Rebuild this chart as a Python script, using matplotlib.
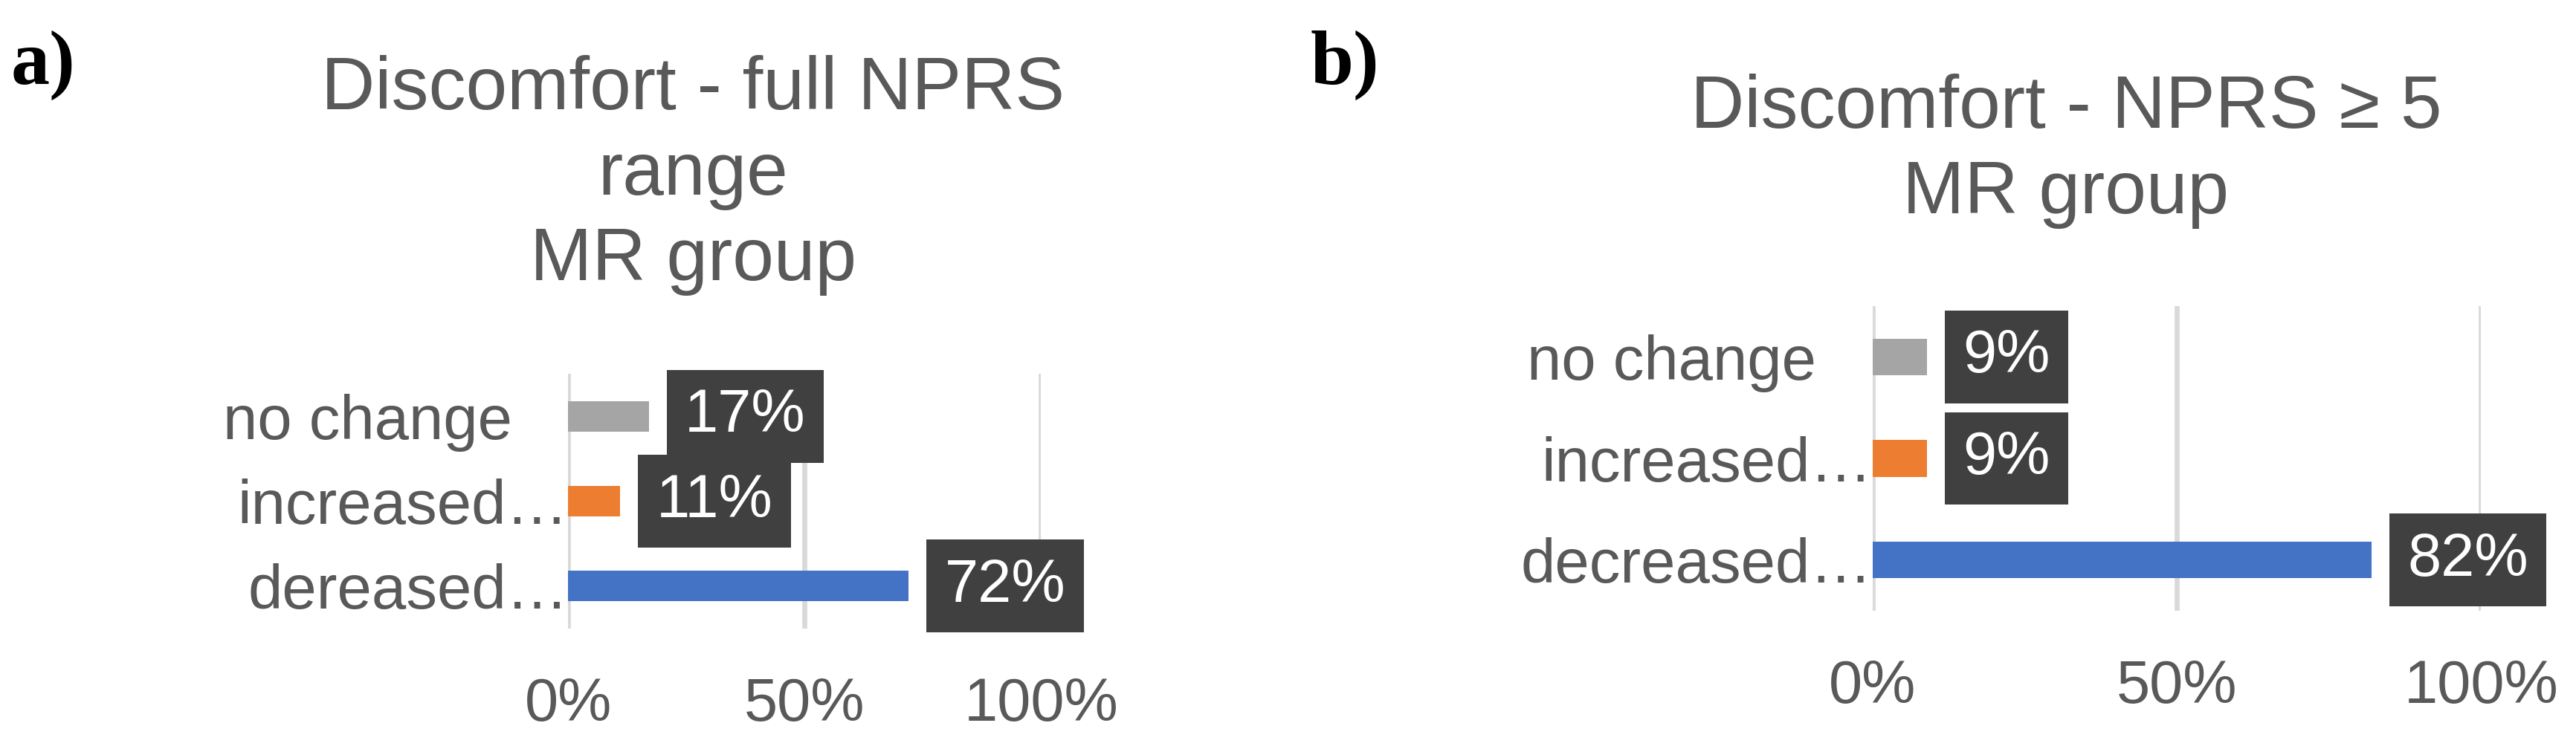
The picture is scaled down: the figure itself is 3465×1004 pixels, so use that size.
import matplotlib.pyplot as plt

# data (top to bottom as shown)
cats_a = ["no change", "increased…", "dereased…"]
vals_a = [17, 11, 72]
cats_b = ["no change", "increased…", "decreased…"]
vals_b = [9, 9, 82]
bar_colors = ["#A5A5A5", "#ED7D31", "#4472C4"]
ticks = [0, 50, 100]
tick_labels = ["0%", "50%", "100%"]
title_a = ["Discomfort - full NPRS", "range", "MR group"]
title_b = ["Discomfort - NPRS ≥ 5", "MR group"]

plt.rcParams["font.family"] = ["Liberation Sans", "DejaVu Sans"]
txt = "#595959"

fig = plt.figure(figsize=(11.55, 3.3467), dpi=300)


def draw(ax, cats, vals):
    pos = list(range(len(cats)))[::-1]
    ax.barh(pos, vals, height=0.36, color=bar_colors)
    ax.set_xlim(0, 100)
    ax.set_ylim(-0.5, 2.5)
    for s in ax.spines.values():
        s.set_visible(False)
    ax.set_xticks(ticks)
    ax.set_xticklabels(tick_labels)
    ax.grid(True, axis="x", color="#D9D9D9", lw=1.6)
    ax.set_axisbelow(True)
    ax.tick_params(axis="x", length=0, labelsize=19.5, labelcolor=txt, pad=15.5)
    ax.tick_params(axis="y", length=0, labelsize=20, labelcolor=txt)
    ax.set_yticks(pos)
    ax.set_yticklabels(cats)
    for t, c in zip(ax.yaxis.get_major_ticks(), cats):
        t.set_pad(0 if c.endswith("…") else 18.2)
    for p, v in zip(pos, vals):
        ax.annotate("%d%%" % v, (v, p), xytext=(11.6, 0), textcoords="offset points",
                    ha="left", va="center", fontsize=19.5, color="white",
                    bbox=dict(boxstyle="square,pad=0.3", fc="#404040", ec="none"))


ax1 = fig.add_axes([0.22063, 0.15737, 0.18355, 0.34163])
draw(ax1, cats_a, vals_a)
ax2 = fig.add_axes([0.72684, 0.18127, 0.23636, 0.40837])
draw(ax2, cats_b, vals_b)

# titles, one line at a time (baseline positions)
for i, line in enumerate(title_a):
    fig.text(0.2690, 1 - (147 + 115 * i) / 1004, line, ha="center", va="baseline",
             fontsize=24, color=txt)
for i, line in enumerate(title_b):
    fig.text(0.8020, 1 - (172 + 115 * i) / 1004, line, ha="center", va="baseline",
             fontsize=24, color=txt)

fig.text(0.0043, 0.8875, "a)", fontsize=25, fontweight="bold", family="Liberation Serif",
         va="baseline")
fig.text(0.5088, 0.8875, "b)", fontsize=25, fontweight="bold", family="Liberation Serif",
         va="baseline")

fig.savefig("out.png", dpi=300)
